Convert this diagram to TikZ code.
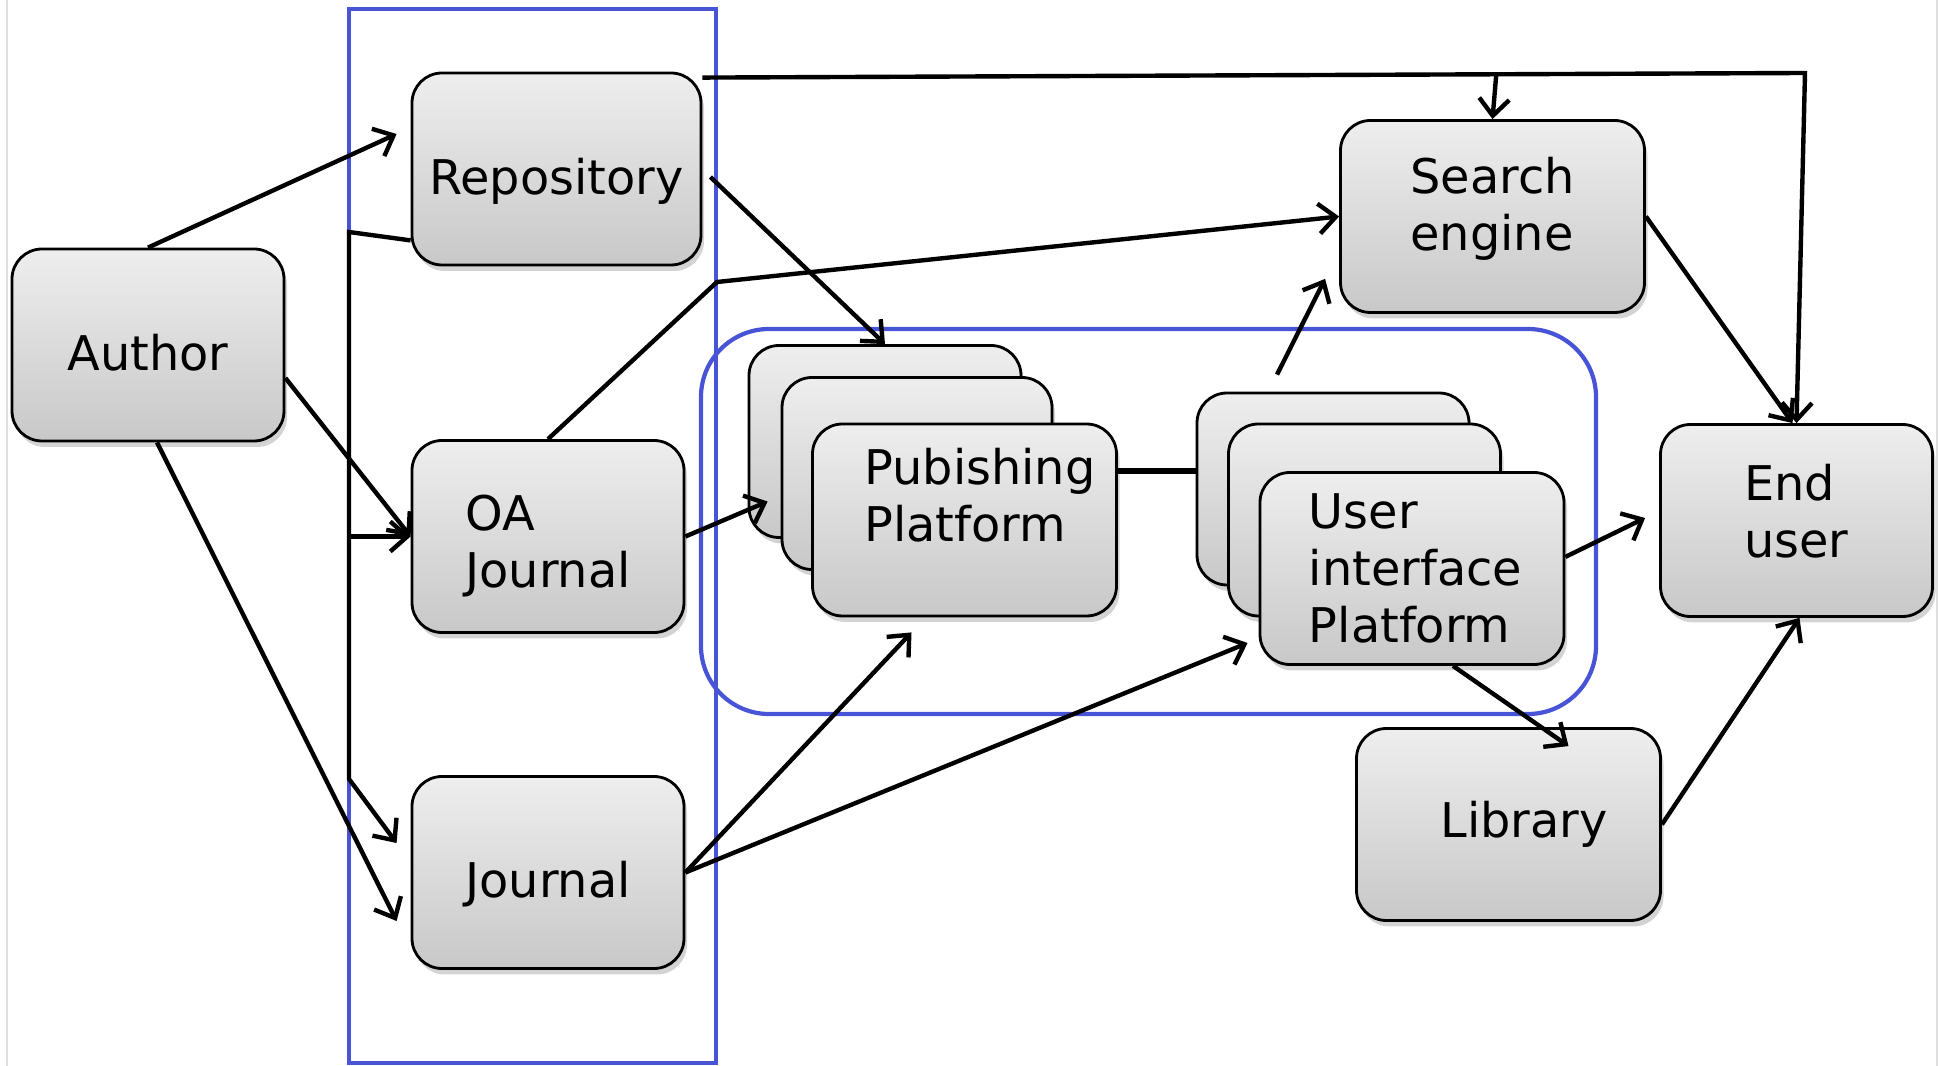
\documentclass[tikz,border=0pt]{standalone}
\usepackage{fontspec}
\setmainfont{DejaVu Sans}
\usetikzlibrary{arrows.meta,calc,shadows}
\definecolor{frameblue}{RGB}{72,84,214}
\definecolor{boxtop}{RGB}{238,238,238}
\definecolor{boxbottom}{RGB}{200,200,200}

\begin{document}
\begin{tikzpicture}[
  font=\fontsize{13.6}{16.2}\selectfont,
  box/.style={
    draw=black,
    line width=0.8pt,
    rounded corners=3mm,
    top color=boxtop,
    bottom color=boxbottom,
    drop shadow={shadow xshift=0.3mm,shadow yshift=-0.6mm,opacity=0.35},
    minimum width=2.72cm,
    minimum height=1.92cm,
    inner sep=1mm,
    align=left,
    text=black
  },
  wide/.style={box,minimum width=3.04cm},
  low/.style={text height=17.3pt,text depth=2.9pt},
  frame/.style={
    draw=frameblue,
    line width=1.2pt
  },
  flow/.style={
    draw=black,
    line width=1.25pt,
    -{Straight Barb[length=1.7mm,width=3mm]}
  },
  link/.style={
    draw=black,
    line width=1.25pt
  }
]
\useasboundingbox (0,0) rectangle (19.39,-10.66);

% Slide edges
\draw[gray!25,line width=0.6pt] (0.07,0) -- (0.07,-10.66);
\draw[gray!25,line width=0.6pt] (19.37,0) -- (19.37,-10.66);

% Groupings
\draw[frame] (3.49,-0.09) rectangle (7.16,-10.63);
\draw[frame,rounded corners=6.8mm] (7.01,-3.29) rectangle (15.96,-7.14);

% Sources
\node[box,low] (author) at (1.48,-3.45) {Author};
\node[box,low,minimum width=2.89cm] (repository) at (5.565,-1.69) {Repository};
\node[box,text height=31.7pt] (oa-journal) at (5.48,-5.365) {OA\\Journal};
\node[box,low] (journal) at (5.48,-8.725) {Journal};

% Platform stacks
\node[box] (pub-back) at (8.85,-4.415) {};
\node[box,minimum width=2.70cm] (pub-mid) at (9.17,-4.735) {};
\node[wide] (pub-front) at (9.645,-5.20) {};
\node[align=left] (pub-text) at (9.80,-4.95) {Pubishing\\Platform};

\node[box] (ui-back) at (13.33,-4.89) {};
\node[box] (ui-mid) at (13.645,-5.20) {};
\node[wide] (ui-front) at (14.12,-5.685)
  {\hspace*{0.07cm}User\\\hspace*{0.07cm}interface\\\hspace*{0.07cm}Platform};

% Access side
\node[wide,text depth=7.2pt] (search) at (14.925,-2.165) {Search\\engine};
\node[box,text depth=5.7pt] (end-user) at (17.965,-5.205) {End\\user};
\node[wide,text width=1.98cm,align=right] (library) at (15.085,-8.245) {Library};

% Deposit routes
\draw[flow] (author.north) -- ([shift={(-0.14,0.35)}]repository.west);
\draw[flow] ([yshift=-0.33cm]author.east) -- (oa-journal.west);
\draw[flow] ([xshift=0.09cm]author.south) --
  ([shift={(-0.14,-0.485)}]journal.west);

% Repository feeding the journals
\coordinate (bus-top) at (3.49,-2.32);
\coordinate (bus-bottom) at (3.49,-7.79);
\draw[flow] ([yshift=0.26cm]repository.south west) -- (bus-top) --
  (bus-bottom) -- ([shift={(-0.14,0.295)}]journal.west);
\draw[flow] (bus-top |- oa-journal.west) -- (oa-journal.west);

% Harvesting by the search engine
\coordinate (oa-bend) at (7.17,-2.82);
\draw[flow] (oa-journal.north) -- (oa-bend) -- (search.west);

\coordinate (repo-out) at ([yshift=-0.06cm]repository.north east);
\coordinate (top-corner) at (18.05,-0.73);
\draw[flow] (repo-out) -- (top-corner) -- (end-user.north);
\draw[flow] ($(repo-out)!0.72!(top-corner)$) -- (search.north);
\draw[flow] (search.east) -- ([xshift=-0.04cm]end-user.north);

% Into the platforms
\draw[flow] ([xshift=0.08cm,yshift=-0.08cm]repository.east) -- (pub-back.north);
\draw[flow] (oa-journal.east) -- ([shift={(0.2,-0.6)}]pub-back.west);
\draw[flow] (journal.east) -- ([shift={(-0.53,-0.15)}]pub-front.south);
\draw[flow] (journal.east) -- ([shift={(-0.11,-0.745)}]ui-front.west);

\coordinate (pub-out) at ([yshift=0.49cm]pub-front.east);
\draw[link,line width=1.6pt] (pub-out) -- (pub-out -| ui-back.west);

% Out to the readers
\draw[flow] ([shift={(-0.56,0.17)}]ui-back.north) --
  ([shift={(-0.14,0.35)}]search.south west);
\draw[flow] ([yshift=0.116cm]ui-front.east) --
  ([shift={(-0.14,0.025)}]end-user.west);
\draw[flow] ([xshift=0.41cm]ui-front.south) --
  ([shift={(0.6,-0.19)}]library.north);
\draw[flow] (library.east) -- ([xshift=0.03cm]end-user.south);

\end{tikzpicture}
\end{document}
